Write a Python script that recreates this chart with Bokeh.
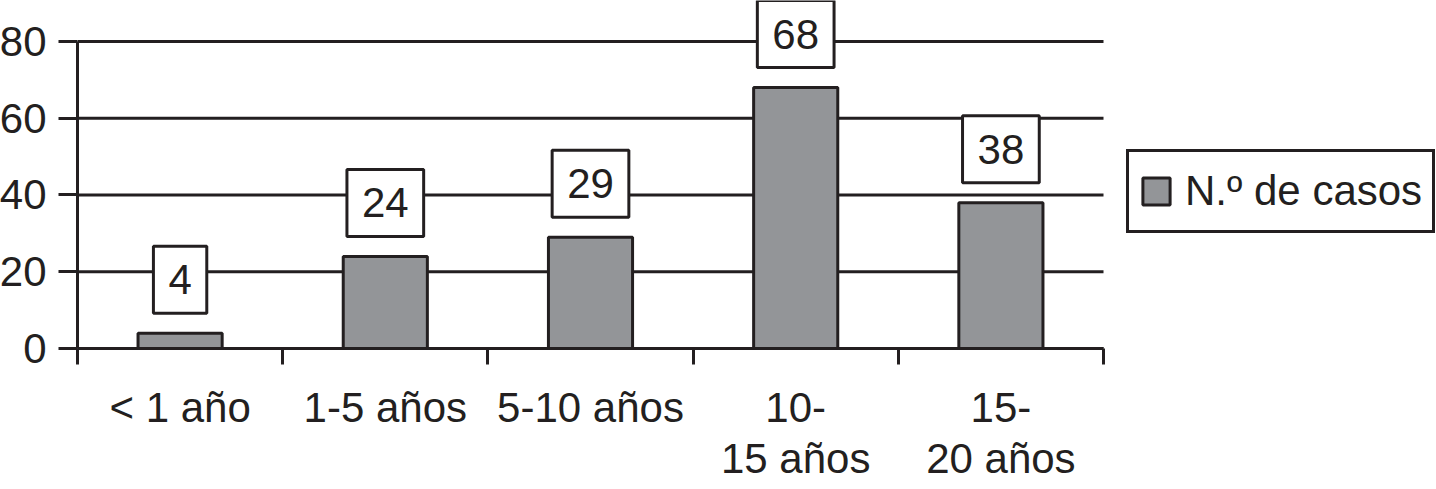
from bokeh.plotting import figure
from bokeh.models import (ColumnDataSource, FixedTicker, Label, Legend,
                          LegendItem, Range1d)
from bokeh.embed import file_html
from bokeh.resources import INLINE

categories = ["< 1 año", "1-5 años", "5-10 años", "10-\n15 años", "15-\n20 años"]
casos = [4, 24, 29, 68, 38]
y_ticks = [0, 20, 40, 60, 80]
serie = "N.º de casos"

INK = "#231f20"
BAR = "#939598"
FONT = "Liberation Sans"
FS = "42px"

n = len(categories)
centers = list(range(n))
bounds = [i - 0.5 for i in range(n + 1)]
x_lo, x_hi = bounds[0], bounds[-1]

src = ColumnDataSource(dict(x=centers, top=casos))
grid_src = ColumnDataSource(dict(y=y_ticks, x0=[x_lo] * len(y_ticks),
                                 x1=[x_hi] * len(y_ticks)))

# frame spans the category area plus room on the right for the legend
p = figure(frame_width=1359, frame_height=348,
           x_range=Range1d(x_lo, x_hi + 1.6228), y_range=Range1d(0, 90.68),
           output_backend="svg", toolbar_location=None,
           min_border_left=85, min_border_right=0,
           min_border_top=8, min_border_bottom=0,
           margin=(-8, -8, -8, -8))
p.outline_line_color = None
p.background_fill_color = "white"
p.border_fill_color = "white"

# horizontal grid lines limited to the category area
p.segment(x0="x0", x1="x1", y0="y", y1="y", source=grid_src,
          line_color=INK, line_width=3)

bars = p.vbar(x="x", top="top", bottom=0, width=0.41, source=src,
              fill_color=BAR, line_color=INK, line_width=3)

# y axis
ya = p.yaxis[0]
ya.ticker = FixedTicker(ticks=y_ticks, minor_ticks=[])
ya.bounds = (0, 80)
ya.axis_line_color = INK
ya.axis_line_width = 3
ya.major_tick_out = 19
ya.major_tick_in = 0
ya.minor_tick_out = 0
ya.minor_tick_in = 0
ya.major_tick_line_color = INK
ya.major_tick_line_width = 3
ya.major_label_standoff = 12
ya.major_label_text_font = FONT
ya.major_label_text_font_size = FS
ya.major_label_text_color = INK

# x axis
xa = p.xaxis[0]
xa.ticker = FixedTicker(ticks=centers, minor_ticks=bounds)
xa.bounds = (x_lo, x_hi)
xa.major_label_overrides = {i: c for i, c in enumerate(categories)}
xa.axis_line_color = INK
xa.axis_line_width = 3
xa.major_tick_out = 0
xa.major_tick_in = 0
xa.minor_tick_out = 16
xa.minor_tick_in = 0
xa.minor_tick_line_color = INK
xa.minor_tick_line_width = 3
xa.major_label_standoff = 19
xa.major_label_text_font = FONT
xa.major_label_text_font_size = FS
xa.major_label_text_color = INK
xa.major_label_text_line_height = 1.1

p.xgrid.visible = False
p.ygrid.visible = False

for xi, v in zip(centers, casos):
    p.add_layout(Label(x=xi, y=v, text=str(v),
                       text_align="center", text_baseline="bottom", y_offset=20,
                       text_font=FONT, text_font_size=FS, text_color=INK,
                       background_fill_color="white", border_line_color=INK,
                       border_line_width=3,
                       padding=dict(left=15, right=15, top=19, bottom=19)))

legend = Legend(items=[LegendItem(label=serie, renderers=[bars])],
                location=(1049, 115),
                border_line_color=INK, border_line_width=3, border_line_alpha=1,
                background_fill_color="white", background_fill_alpha=1,
                padding=10, margin=0, label_standoff=12,
                glyph_width=34, glyph_height=34, label_height=58,
                label_text_font=FONT, label_text_font_size=FS,
                label_text_color=INK)
p.add_layout(legend)

open("out.html", "w").write(file_html(p, INLINE))
